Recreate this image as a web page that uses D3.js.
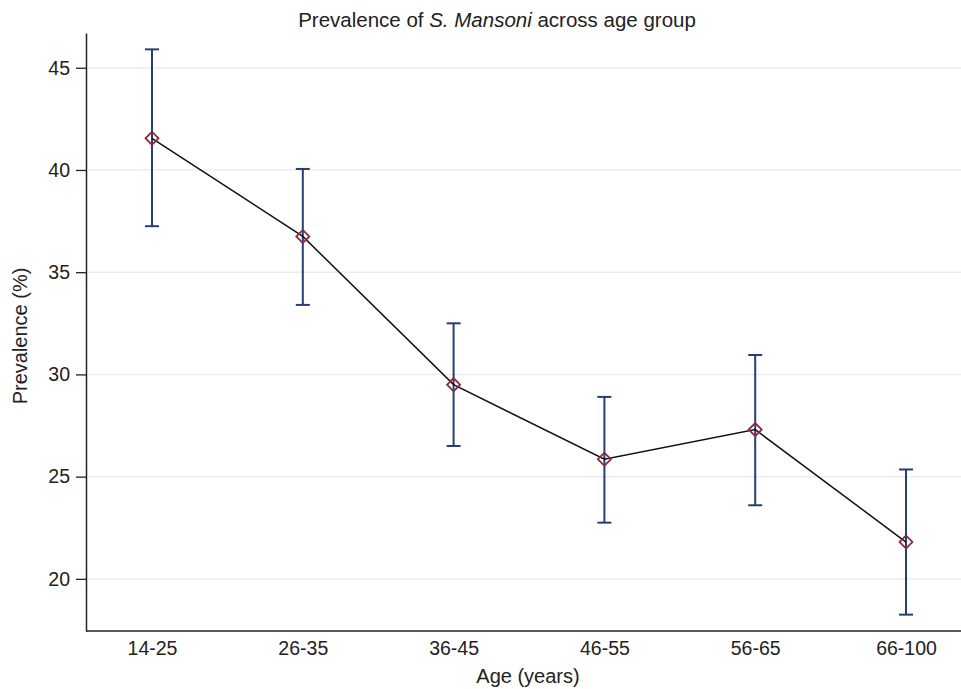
<!DOCTYPE html>
<html><head><meta charset="utf-8">
<script src="https://cdn.jsdelivr.net/npm/d3@7"></script>
<style>body{margin:0;background:#fff;} svg{display:block;font-family:"Liberation Sans",Arial,sans-serif;}</style>
</head><body><svg id="c" width="961" height="689"></svg>
<script>
const categories = ["14-25","26-35","36-45","46-55","56-65","66-100"];
const prevalence = [41.55, 36.75, 29.5, 25.85, 27.3, 21.8];
const upper = [45.9, 40.05, 32.5, 28.9, 30.95, 25.35];
const lower = [37.25, 33.4, 26.5, 22.75, 23.6, 18.25];
const yTicks = [20, 25, 30, 35, 40, 45];

const svg = d3.select("#c");
const m = {left: 86, right: 0, top: 33, bottom: 58};
const W = 961, H = 689;
const x = d3.scalePoint().domain(categories).range([152, 906]);
const y = d3.scaleLinear().domain([17.45, 46.7]).range([H - m.bottom, m.top]);

// grid
svg.append("g").selectAll("line").data(yTicks).join("line")
  .attr("x1", m.left + 2).attr("x2", W).attr("y1", d => y(d)).attr("y2", d => y(d))
  .attr("stroke", "#ececec").attr("stroke-width", 1.5);

// y axis
const ya = svg.append("g").attr("transform", `translate(${m.left},0)`)
  .call(d3.axisLeft(y).tickValues(yTicks).tickSize(10).tickPadding(6).tickSizeOuter(0));
ya.select(".domain").attr("stroke", "#222").attr("stroke-width", 1.5);
ya.selectAll(".tick line").attr("stroke", "#222").attr("stroke-width", 1.3);
ya.selectAll(".tick text").attr("font-size", 19.5).attr("fill", "#222").attr("font-family", "Liberation Sans, Arial, sans-serif");

// x axis
const xa = svg.append("g").attr("transform", `translate(0,${H - m.bottom})`)
  .call(d3.axisBottom(x).tickSize(0).tickPadding(10));
xa.select(".domain").remove();
svg.append("line").attr("x1", m.left).attr("x2", W).attr("y1", H - m.bottom).attr("y2", H - m.bottom)
  .attr("stroke", "#222").attr("stroke-width", 1.5);
xa.selectAll(".tick text").attr("font-size", 19.5).attr("fill", "#222").attr("font-family", "Liberation Sans, Arial, sans-serif");

// error bars
const eb = svg.append("g").attr("stroke", "#253f72").attr("stroke-width", 2);
categories.forEach((c, i) => {
  const cx = x(c);
  eb.append("line").attr("x1", cx).attr("x2", cx).attr("y1", y(upper[i])).attr("y2", y(lower[i]));
  eb.append("line").attr("x1", cx - 7).attr("x2", cx + 7).attr("y1", y(upper[i])).attr("y2", y(upper[i]));
  eb.append("line").attr("x1", cx - 7).attr("x2", cx + 7).attr("y1", y(lower[i])).attr("y2", y(lower[i]));
});

// line
svg.append("path").datum(prevalence)
  .attr("d", d3.line().x((d, i) => x(categories[i])).y(d => y(d)))
  .attr("fill", "none").attr("stroke", "#111").attr("stroke-width", 1.5);

// markers
svg.append("g").selectAll("path").data(prevalence).join("path")
  .attr("transform", (d, i) => `translate(${x(categories[i])},${y(d)}) rotate(45)`)
  .attr("d", "M-4.6,-4.6H4.6V4.6H-4.6Z")
  .attr("fill", "none").attr("stroke", "#8c2a3e").attr("stroke-width", 1.8);

// title
const t = svg.append("text").attr("x", 497).attr("y", 27).attr("text-anchor", "middle")
  .attr("font-size", 20.5).attr("fill", "#222");
t.append("tspan").text("Prevalence of ");
t.append("tspan").attr("font-style", "italic").text("S. Mansoni");
t.append("tspan").text(" across age group");

// axis titles
svg.append("text").attr("x", 528).attr("y", 683).attr("text-anchor", "middle")
  .attr("font-size", 20).attr("fill", "#222").text("Age (years)");
svg.append("text").attr("transform", "translate(27,336) rotate(-90)").attr("text-anchor", "middle")
  .attr("font-size", 20).attr("fill", "#222").text("Prevalence (%)");
</script></body></html>
